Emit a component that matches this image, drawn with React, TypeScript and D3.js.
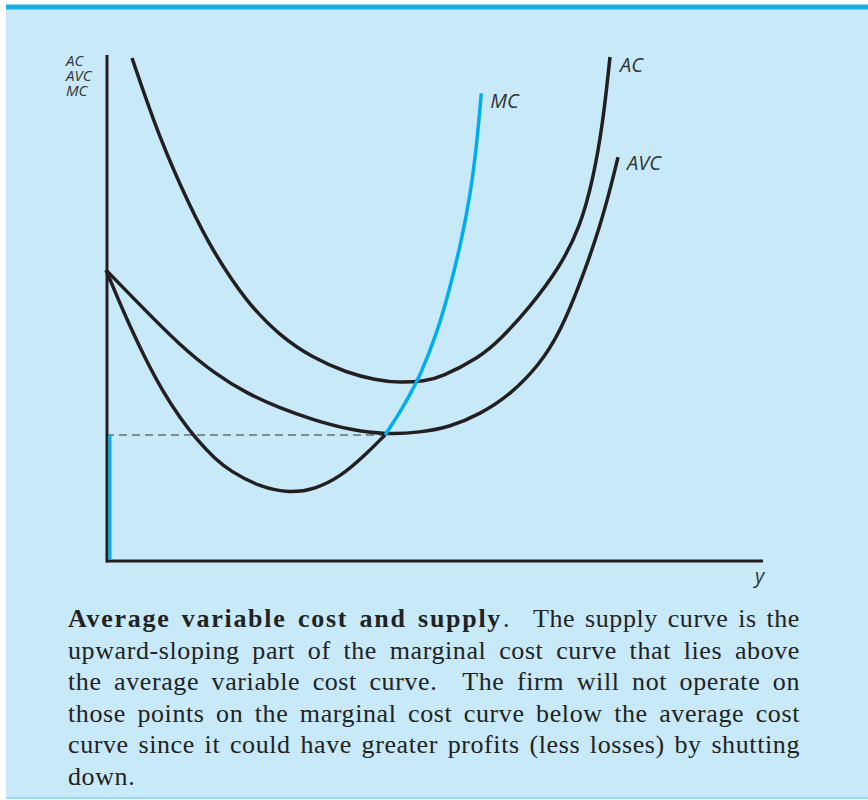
import React from "react";
import * as d3 from "d3";

// Curve points (x: quantity y on 0..100; y: cost on 0..100)
const acCurve: [number, number][] = [
  [3.96, 99.4], [8.22, 83.2], [12.79, 70.0], [16.13, 61.5], [21.46, 51.0], [26.48, 44.5],
  [31.51, 40.1], [36.68, 37.2], [40.94, 35.8], [44.75, 35.2], [48.55, 35.6], [50.84, 36.2],
  [56.93, 40.3], [59.97, 43.7], [64.54, 50.2], [69.1, 58.1], [72.15, 66.0], [74.12, 75.3],
  [75.65, 86.6], [76.71, 99.6],
];
const avcCurve: [number, number][] = [
  [0, 57.5], [5.18, 50.6], [11.26, 42.6], [16.59, 37.0], [21.46, 33.1], [26.48, 30.2],
  [31.51, 27.9], [37.14, 25.9], [42.77, 25.0], [47.79, 25.4], [52.36, 26.5], [56.93, 29.0],
  [61.49, 32.8], [66.06, 38.9], [69.1, 45.2], [72.15, 54.7], [75.19, 66.0], [77.02, 74.9],
  [77.93, 79.8],
];
const mcLower: [number, number][] = [
  [0, 57.5], [1.83, 51.8], [3.65, 46.4], [5.94, 40.1], [8.68, 33.4], [11.26, 28.3],
  [13.85, 23.9], [16.59, 20.2], [18.87, 17.8], [23.44, 14.6], [28.0, 13.4], [31.81, 14.2],
  [35.62, 16.6], [39.42, 20.9], [42.47, 24.9],
];
const mcUpper: [number, number][] = [
  [42.47, 24.9], [44.75, 29.4], [46.27, 32.9], [47.79, 36.6], [50.3, 44.7], [52.36, 53.9],
  [54.11, 63.4], [55.4, 72.0], [56.41, 81.9], [57.12, 92.4],
];
const shutdownPrice = 24.9;

const axisLabels = ["AC", "AVC", "MC"];
const xAxisLabel = "y";
const captionBold = "Average variable cost and supply";
const captionFirstRest = "The supply curve is the";
const captionLines = [
  "upward-sloping part of the marginal cost curve that lies above",
  "the average variable cost curve. The firm will not operate on",
  "those points on the marginal cost curve below the average cost",
  "curve since it could have greater profits (less losses) by shutting",
];
const captionLast = "down.";

const BLACK = "#231f20";
const BLUE = "#00aeef";
const SERIF = "'Liberation Serif', 'Times New Roman', serif";
const FS = 26;
const LS = 0.6;
const LS_BOLD = 1.7;

let ctx: CanvasRenderingContext2D | null = null;
function measure(text: string, bold: boolean): number {
  if (!ctx) ctx = document.createElement("canvas").getContext("2d");
  const ls = bold ? LS_BOLD : LS;
  if (!ctx) return text.length * FS * 0.45;
  ctx.font = `${bold ? "bold " : ""}${FS}px ${SERIF}`;
  return ctx.measureText(text).width + ls * text.length;
}

function justify(line: string, x0: number, x1: number, bold: boolean) {
  const words = line.split(" ");
  const widths = words.map((w) => measure(w, bold));
  const weights = words.slice(0, -1).map((w) => (w.endsWith(".") ? 2 : 1));
  const totalW = d3.sum(widths);
  const totalWeight = d3.sum(weights) || 1;
  const unit = (x1 - x0 - totalW) / totalWeight;
  const out: { w: string; x: number }[] = [];
  let x = x0;
  words.forEach((w, i) => {
    out.push({ w, x });
    x += widths[i] + (i < weights.length ? weights[i] * unit : 0);
  });
  return out;
}

export default function App() {
  const x = d3.scaleLinear().domain([0, 100]).range([106, 763]);
  const y = d3.scaleLinear().domain([0, 100]).range([561, 55]);
  const line = d3
    .line<[number, number]>()
    .x((d) => x(d[0]))
    .y((d) => y(d[1]))
    .curve(d3.curveBasis);

  const acEnd = acCurve[acCurve.length - 1];
  const avcEnd = avcCurve[avcCurve.length - 1];
  const mcEnd = mcUpper[mcUpper.length - 1];
  const labelFont = "'Open Sans', 'DejaVu Sans', sans-serif";

  const left = 68;
  const right = 800;
  const base0 = 627;
  const lh = 31.6;

  const boldWords = justify(captionBold, left, 502, true);
  const firstRest = justify(captionFirstRest, 533, right, false);
  const bodyLines = captionLines.map((l) => justify(l, left, right, false));

  return (
    <svg
      width={868}
      height={800}
      style={{ position: "absolute", left: 0, top: 0, display: "block" }}
    >
      <rect x={0} y={0} width={868} height={800} fill="#ffffff" />
      <rect x={6} y={9} width={862} height={788} fill="#c7e9f8" />
      <rect x={6} y={4.5} width={862} height={5} fill="#19b0ea" />
      <rect x={6} y={797} width={862} height={2} fill="#9dd7f2" />

      {/* dashed line at shutdown price */}
      <line
        x1={x(0)}
        x2={x(mcLower[mcLower.length - 1][0])}
        y1={y(shutdownPrice)}
        y2={y(shutdownPrice)}
        stroke="#333"
        strokeWidth={1}
        strokeDasharray="8,5"
      />

      {/* axes */}
      <line x1={x(0) + 1} x2={x(0) + 1} y1={y(100)} y2={y(0) + 1.5} stroke={BLACK} strokeWidth={3} />
      <line x1={x(0)} x2={x(100)} y1={y(0)} y2={y(0)} stroke={BLACK} strokeWidth={3} />
      {/* supply on vertical axis below shutdown */}
      <line x1={x(0) + 4} x2={x(0) + 4} y1={y(shutdownPrice)} y2={y(0) - 1.5} stroke={BLUE} strokeWidth={3} />

      {/* curves */}
      <path d={line(acCurve) || ""} fill="none" stroke={BLACK} strokeWidth={3.5} />
      <path d={line(avcCurve) || ""} fill="none" stroke={BLACK} strokeWidth={3.5} />
      <path d={line(mcLower) || ""} fill="none" stroke={BLACK} strokeWidth={3.5} />
      <path d={line(mcUpper) || ""} fill="none" stroke={BLUE} strokeWidth={3.5} />

      {/* curve labels */}
      <g fontFamily={labelFont} fontStyle="italic" fontSize={20} fill="#333">
        <text x={x(acEnd[0]) + 10} y={y(acEnd[1]) + 15}>AC</text>
        <text x={x(avcEnd[0]) + 9} y={y(avcEnd[1]) + 13}>AVC</text>
        <text x={x(mcEnd[0]) + 9} y={y(mcEnd[1]) + 15}>MC</text>
        <text x={755} y={583}>{xAxisLabel}</text>
      </g>
      <g fontFamily={labelFont} fontStyle="italic" fontSize={15} fill="#333">
        {axisLabels.map((t, i) => (
          <text key={t} x={66} y={66 + i * 15}>{t}</text>
        ))}
      </g>

      {/* caption */}
      <g fontFamily={SERIF} fontSize={FS} fill="#222">
        {boldWords.map((w, i) => (
          <text key={"b" + i} x={w.x} y={base0} fontWeight="bold" letterSpacing={LS_BOLD}>{w.w}</text>
        ))}
        <text x={503} y={base0}>.</text>
        {firstRest.map((w, i) => (
          <text key={"f" + i} x={w.x} y={base0} letterSpacing={LS}>{w.w}</text>
        ))}
        {bodyLines.map((ws, li) =>
          ws.map((w, i) => (
            <text key={li + "-" + i} x={w.x} y={base0 + (li + 1) * lh} letterSpacing={LS}>{w.w}</text>
          ))
        )}
        <text x={left} y={base0 + 5 * lh} letterSpacing={LS}>{captionLast}</text>
      </g>
    </svg>
  );
}
